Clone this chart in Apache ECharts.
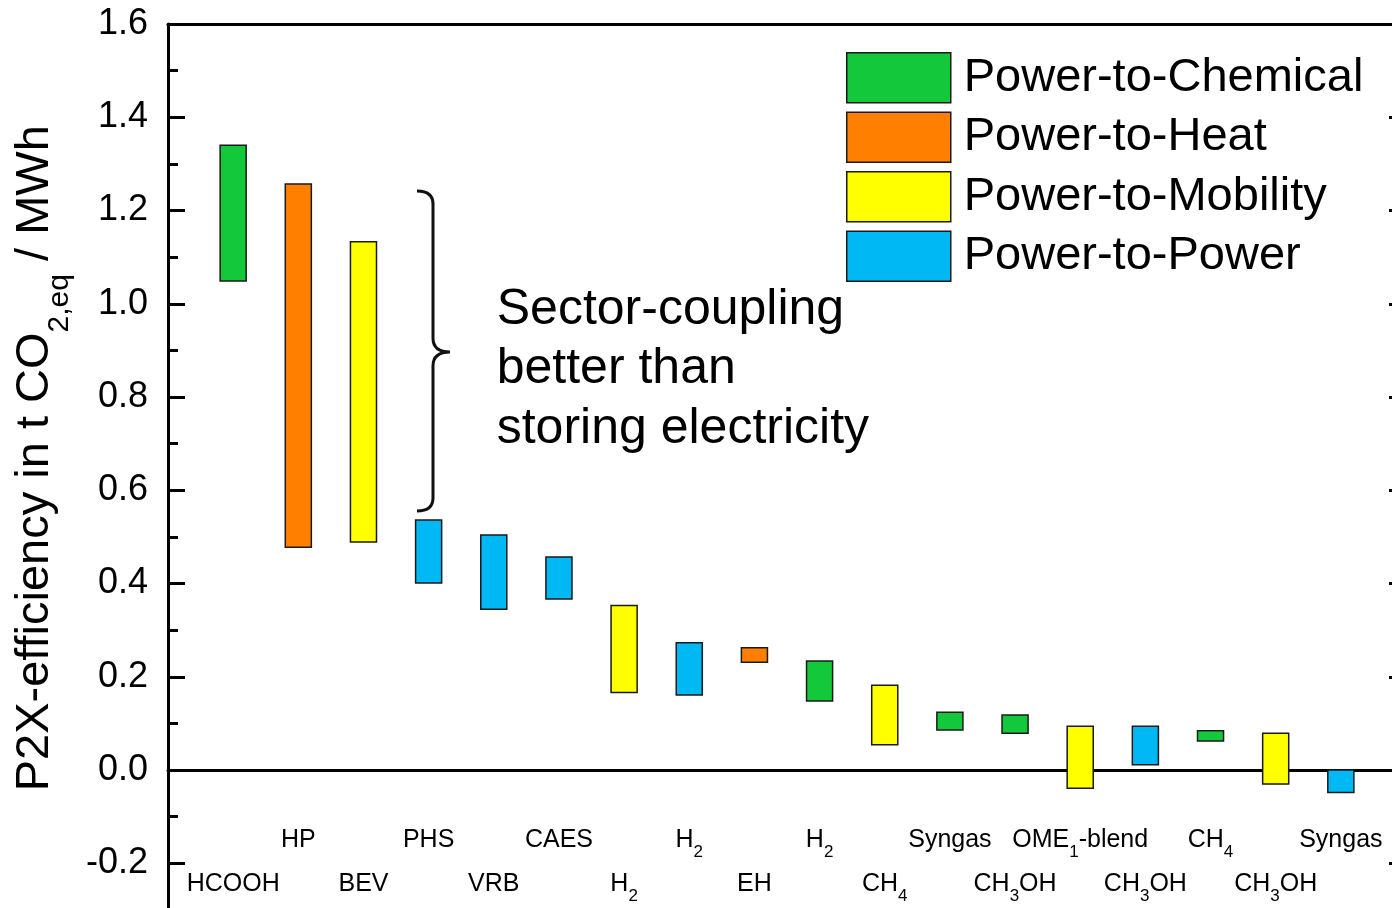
<!DOCTYPE html>
<html>
<head>
<meta charset="utf-8">
<script src="https://cdn.jsdelivr.net/npm/echarts@6/dist/echarts.min.js"></script>
<style>
html,body{margin:0;padding:0;background:#fff;}
#chart{width:1392px;height:908px;}
</style>
</head>
<body>
<div id="chart"></div>
<script>
// ---- data ----
const categories = ['HCOOH','HP','BEV','PHS','VRB','CAES','H_2','H_2','EH','H_2','CH_4','Syngas','CH_3OH','OME_1-blend','CH_3OH','CH_4','CH_3OH','Syngas'];
const upperValues = [1.340,1.257,1.133,0.536,0.504,0.457,0.353,0.273,0.262,0.234,0.182,0.124,0.118,0.094,0.094,0.084,0.079,0.000];
const lowerValues = [1.049,0.478,0.489,0.401,0.345,0.367,0.166,0.161,0.231,0.148,0.054,0.086,0.079,-0.039,0.011,0.062,-0.030,-0.048];
const sectors = ['Chemical','Heat','Mobility','Power','Power','Power','Mobility','Power','Heat','Chemical','Mobility','Chemical','Chemical','Mobility','Power','Chemical','Mobility','Power'];
const sectorNames = ['Chemical','Heat','Mobility','Power'];
const sectorColors = {Chemical:'#14C83C', Heat:'#FF8000', Mobility:'#FFFF00', Power:'#00B8F4'};
const yTicks = {min:-0.4, max:1.6, interval:0.2};
const annotationLines = ['Sector-coupling','better than','storing electricity'];

const FONT = 'Liberation Sans, Arial, Helvetica, sans-serif';
const BAR_HALF = 0.2;

function toRich(s){
  const parts = s.split(/_(\d)/);
  let out = '';
  parts.forEach((p,i)=>{ if(!p) return; out += (i%2===1) ? '{s|'+p+'}' : '{a|'+p+'}'; });
  return out;
}

const chart = echarts.init(document.getElementById('chart'), null, {renderer:'canvas'});

const barSeries = sectorNames.map(sec => ({
  type:'custom',
  name:'Power-to-' + sec,
  itemStyle:{color:sectorColors[sec], borderColor:'#1a1a1a', borderWidth:1.5},
  encode:{x:0, y:[1,2]},
  data: categories.map((c,i)=>[i+1, lowerValues[i], upperValues[i], sectors[i]]).filter(d=>d[3]===sec).map(d=>[d[0],d[1],d[2]]),
  renderItem:function(params, api){
    const x = api.value(0);
    const p1 = api.coord([x-BAR_HALF, api.value(2)]);
    const p2 = api.coord([x+BAR_HALF, api.value(1)]);
    return {type:'rect', shape:{x:p1[0], y:p1[1], width:p2[0]-p1[0], height:p2[1]-p1[1]},
      style:{fill:sectorColors[sec], stroke:'#1a1a1a', lineWidth:1.5}};
  },
  z:3
}));

const labelSeries = {
  type:'custom',
  name:'labels',
  silent:true,
  data: categories.map((c,i)=>[i+1, i%2===0 ? -0.245 : -0.151]),
  renderItem:function(params, api){
    const i = params.dataIndex;
    const p = api.coord([api.value(0), api.value(1)]);
    return {type:'text', x:p[0], y:p[1], style:{
      text: toRich(categories[i]),
      align:'center', verticalAlign:'middle', textAlign:'center', textVerticalAlign:'middle',
      fill:'#000',
      rich:{
        a:{fontSize:25, fontFamily:FONT, lineHeight:41, verticalAlign:'middle', fill:'#000'},
        s:{fontSize:17, fontFamily:FONT, lineHeight:41, verticalAlign:'bottom', fill:'#000'}
      }
    }};
  },
  z:4
};

const annotationSeries = {
  type:'custom',
  name:'annotation',
  silent:true,
  data:[[3.821, 4.067, 4.328, 1.2418, 0.8965, 0.5555, 5.045, 0.8586]],
  renderItem:function(params, api){
    const xe = api.coord([api.value(0), 0])[0];
    const xs = api.coord([api.value(1), 0])[0];
    const xt = api.coord([api.value(2), 0])[0];
    const yt = api.coord([0, api.value(3)])[1];
    const ym = api.coord([0, api.value(4)])[1];
    const yb = api.coord([0, api.value(5)])[1];
    const tp = api.coord([api.value(6), api.value(7)]);
    const r = 13, r2 = 14;
    const d = 'M'+xe+' '+yt+' Q'+xs+' '+yt+' '+xs+' '+(yt+r)+
              ' L'+xs+' '+(ym-r2)+' Q'+xs+' '+ym+' '+xt+' '+ym+
              ' Q'+xs+' '+ym+' '+xs+' '+(ym+r2)+
              ' L'+xs+' '+(yb-r)+' Q'+xs+' '+yb+' '+xe+' '+yb;
    return {type:'group', children:[
      {type:'path', shape:{pathData:d}, style:{stroke:'#111', fill:null, lineWidth:3}},
      {type:'text', x:tp[0], y:tp[1], style:{text:annotationLines.join('\n'), fontSize:50, fontFamily:FONT,
        lineHeight:59.5, fill:'#000', align:'left', verticalAlign:'middle', textAlign:'left', textVerticalAlign:'middle'}}
    ]};
  },
  z:4
};

const axisLineStyle = {color:'#000', width:3};

const option = {
  backgroundColor:'#fff',
  animation:false,
  grid:{left:168, right:-14, top:24, bottom:-48.5, containLabel:false, outerBoundsMode:'none'},
  legend:{
    orient:'vertical', left:846, top:52, padding:0,
    itemWidth:104, itemHeight:50, itemGap:8,
    icon:'rect',
    itemStyle:{borderColor:'#1a1a1a', borderWidth:1.5},
    textStyle:{fontSize:47, fontFamily:FONT, color:'#000', lineHeight:50, padding:[0,0,0,8]},
    data:sectorNames.map(s=>'Power-to-'+s),
    selectedMode:false
  },
  xAxis:[
    {type:'value', min:0, max:19, position:'bottom',
     axisLine:{show:true, onZero:true, lineStyle:axisLineStyle},
     axisTick:{show:false}, axisLabel:{show:false}, splitLine:{show:false}},
    {type:'value', min:0, max:19, position:'top',
     axisLine:{show:true, onZero:false, lineStyle:axisLineStyle},
     axisTick:{show:false}, axisLabel:{show:false}, splitLine:{show:false}}
  ],
  yAxis:[
    {type:'value', min:yTicks.min, max:yTicks.max, interval:yTicks.interval, position:'left',
     axisLine:{show:true, onZero:false, lineStyle:axisLineStyle},
     axisTick:{show:true, inside:true, length:17, lineStyle:{color:'#000', width:3}},
     minorTick:{show:true, splitNumber:2, length:10, lineStyle:{color:'#000', width:3}},
     axisLabel:{show:true, margin:20, fontSize:36, fontFamily:FONT, color:'#000',
       formatter:v=>v.toFixed(1)},
     splitLine:{show:false},
     name:'{m|P2X-efficiency in t CO}{s|2,eq}{m| / MWh}',
     nameLocation:'middle', nameRotate:90, nameGap:87.5,
     nameTextStyle:{fontSize:47, fontFamily:FONT, color:'#000', lineHeight:80, padding:[0,0,0,64],
       rich:{
         m:{fontSize:47, fontFamily:FONT, lineHeight:80, verticalAlign:'middle', color:'#000'},
         s:{fontSize:30, fontFamily:FONT, lineHeight:80, verticalAlign:'bottom', color:'#000'}
       }}
    },
    {type:'value', min:yTicks.min, max:yTicks.max, interval:yTicks.interval, position:'right',
     axisLine:{show:true, onZero:false, lineStyle:axisLineStyle},
     axisTick:{show:true, inside:true, length:17, lineStyle:{color:'#000', width:3}},
     minorTick:{show:true, splitNumber:2, length:10, lineStyle:{color:'#000', width:3}},
     axisLabel:{show:false}, splitLine:{show:false}}
  ],
  series:[...barSeries, labelSeries, annotationSeries]
};
chart.setOption(option);
</script>
</body>
</html>
